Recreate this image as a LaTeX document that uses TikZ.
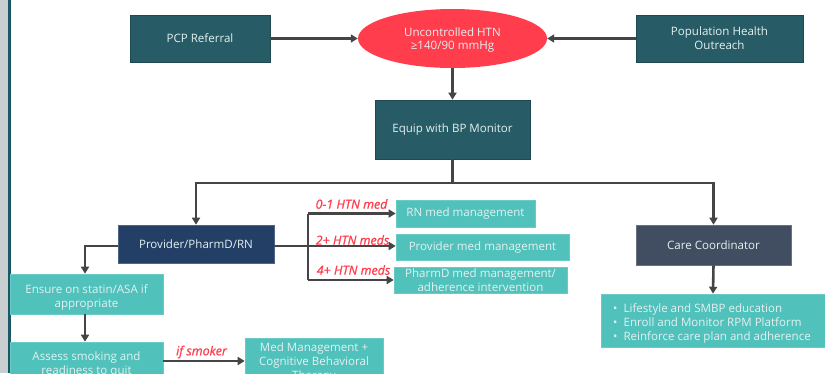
\documentclass[tikz,border=0pt]{standalone}
\usepackage{fontspec}
\setmainfont{Open Sans}
\usetikzlibrary{arrows.meta,shapes.geometric}
\definecolor{deepteal}{HTML}{275B65}
\definecolor{navybox}{HTML}{243F66}
\definecolor{slatebox}{HTML}{414D60}
\definecolor{lightteal}{HTML}{50C1BB}
\definecolor{alertred}{HTML}{FF3D4C}
\definecolor{boxtext}{HTML}{E4F1F1}
\definecolor{wire}{HTML}{454545}
\definecolor{stripgrey}{HTML}{C9CED1}
\definecolor{stripline}{HTML}{1B5866}
\tikzset{
  base/.style={rectangle, text=boxtext, font=\fontsize{11.6}{14}\selectfont, align=center, inner sep=1pt, anchor=center},
  darkbox/.style={base, fill=deepteal, draw=deepteal!80!black, line width=0.6pt},
  navy/.style={base, fill=navybox, draw=navybox!80!white, line width=0.6pt},
  slate/.style={base, fill=slatebox, draw=slatebox!80!white, line width=0.6pt},
  tealbox/.style={base, fill=lightteal, draw=lightteal!85!white, line width=0.6pt},
  boxlabel/.style={base},
  flow/.style={draw=wire, line width=2.6pt, -{Triangle[length=7pt,width=8pt]}},
  plain/.style={draw=wire, line width=2.6pt},
  cond/.style={text=alertred, font=\fontsize{12.5}{14}\selectfont\itshape\addfontfeature{FakeBold=0.9}, inner sep=0pt}
}
\begin{document}
\begin{tikzpicture}[x=1bp, y=-1bp]
\useasboundingbox (0,0) rectangle (825,373);
\clip (0,0) rectangle (825,373);
% side strip
\fill[stripgrey] (0,0) rectangle (8,373);
\fill[stripline] (8,0) rectangle (10.5,373);

% top row
\node[darkbox, minimum width=140bp, minimum height=47bp] (pcp) at (200,38.5) {PCP Referral};
\node[ellipse, fill=alertred, minimum width=189bp, minimum height=59bp, inner sep=0pt] (htn) at (452.5,38.5) {};
\node[boxlabel] (htn-text) at (452.5,40) {Uncontrolled HTN\\≥140/90 mmHg};
\node[darkbox, minimum width=167bp, minimum height=47bp] (pop) at (719.5,38.5) {Population Health\\Outreach};
\node[darkbox, minimum width=155bp, minimum height=59bp] (equip) at (452.5,129.5) {Equip with BP Monitor};

% second tier
\node[navy, minimum width=156bp, minimum height=38bp] (prov) at (196,244) {Provider/PharmD/RN};
\node[slate, minimum width=155bp, minimum height=40bp] (cc) at (713.5,245) {Care Coordinator};
\node[tealbox, minimum width=224bp, minimum height=53bp] (tasks) at (713,320.5) {};
\node[boxlabel, align=left] (tasks-text) at (712,323.5)
  {•\hspace{6bp}Lifestyle and SMBP education\\•\hspace{6bp}Enroll and Monitor RPM Platform\\•\hspace{6bp}Reinforce care plan and adherence};

% medication branches
\node[tealbox, minimum width=139bp, minimum height=27bp] (rn) at (465.5,213.5) {RN med management};
\node[tealbox, minimum width=173bp, minimum height=26bp] (pmed) at (482.5,247) {Provider med management};
\node[tealbox, minimum width=173bp, minimum height=26bp, inner sep=0pt, font=\fontsize{11.6}{13.5}\selectfont] (pharm) at (480.5,280) {PharmD med management/\\adherence intervention};

% left column
\node[tealbox, minimum width=153bp, minimum height=40bp] (ensure) at (86.5,294) {};
\node[boxlabel] (ensure-text) at (86.5,297) {Ensure on statin/ASA if\\appropriate};
\node[tealbox, minimum width=153bp, minimum height=38bp] (assess) at (86.5,361) {};
\node[boxlabel] (assess-text) at (86.5,364.5) {Assess smoking and\\readiness to quit};
\node[tealbox, minimum width=138bp, minimum height=46bp, text depth=0pt] (cbt) at (314,361) {Med Management +\\Cognitive Behavioral\\Therapy};

% connector junctions
\coordinate (split) at (452.5,183);
\coordinate (bar) at (308,246);
\coordinate (lft) at (85,246);

% connectors
\draw[flow] (pcp.east) -- (htn.west);
\draw[flow] (pop.west) -- (htn.east);
\draw[flow] (htn.south) -- (equip.north);
\draw[plain] (equip.south) -- (split);
\draw[flow] (split) -| (prov.north);
\draw[flow] (split) -| (cc.north);
\draw[flow] (cc.south) -- (tasks.north);

\draw[plain] (prov.east |- bar) -- (bar);
\draw[plain] (bar |- rn.west) -- (bar |- pharm.west);
\draw[flow] (bar |- rn.west) -- (rn.west);
\draw[flow] (bar) -- (pmed.west |- bar);
\draw[flow] (bar |- pharm.west) -- (pharm.west);

\draw[flow] (prov.west |- lft) -- (lft) -- (lft |- ensure.north);
\draw[flow] (lft |- ensure.south) -- (lft |- assess.north);
\draw[flow] (assess.east) -- (cbt.west);

% branch conditions
\node[cond] (c1) at (351.5,204) {0-1 HTN med};
\node[cond] (c2) at (352.5,240) {2+ HTN meds};
\node[cond] (c3) at (353.5,270) {4+ HTN meds};
\node[cond] (c4) at (201.5,352) {if smoker};
\end{tikzpicture}
\end{document}
